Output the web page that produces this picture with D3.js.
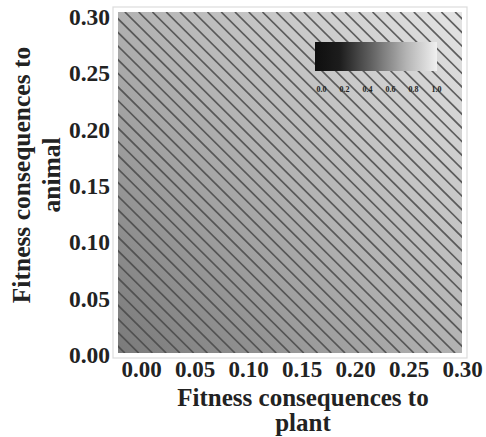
<!DOCTYPE html>
<html><head><meta charset="utf-8">
<script src="https://cdn.jsdelivr.net/npm/d3@7"></script>
<style>body{margin:0;background:#fff}svg{display:block}</style>
</head><body>
<svg id="c" width="486" height="437"></svg>
<script>
// Data
const xDomain = [0, 0.30];
const yDomain = [0, 0.30];
const xTicks = [0.00, 0.05, 0.10, 0.15, 0.20, 0.25, 0.30];
const yTicks = [0.00, 0.05, 0.10, 0.15, 0.20, 0.25, 0.30];
const contourStep = 0.012;                 // spacing of contour lines in x+y
const legendTicks = [0.0, 0.2, 0.4, 0.6, 0.8, 1.0];
const xTitle = ["Fitness consequences to", "plant"];
const yTitle = ["Fitness consequences to", "animal"];

const svg = d3.select("#c");
const font = "'Liberation Serif','Times New Roman',serif";

// plot area (fill) scales
const x = d3.scaleLinear().domain(xDomain).range([118, 462]);
const y = d3.scaleLinear().domain(yDomain).range([353, 12]);
// tick label scales
const xl = d3.scaleLinear().domain(xDomain).range([141, 462]);
const yl = d3.scaleLinear().domain(yDomain).range([355, 17]);

const defs = svg.append("defs");
const g = defs.append("linearGradient").attr("id", "bg")
  .attr("gradientUnits", "userSpaceOnUse")
  .attr("x1", x(0)).attr("y1", y(0)).attr("x2", x(0.3)).attr("y2", y(0.3));
const shade = d3.scaleLinear().domain([0, 0.5, 1]).range(["#7a7a7a", "#b2b2b2", "#e4e4e4"]);
d3.range(0, 1.0001, 0.1).forEach(t => g.append("stop").attr("offset", t).attr("stop-color", shade(t)));

// outer frame
svg.append("rect").attr("x", x(0) - 5).attr("y", y(0.3) - 5)
  .attr("width", x(0.3) - x(0) + 10).attr("height", y(0) - y(0.3) + 10)
  .attr("fill", "none").attr("stroke", "#dcdcdc").attr("stroke-width", 1.2);

svg.append("rect").attr("x", x(0)).attr("y", y(0.3))
  .attr("width", x(0.3) - x(0)).attr("height", y(0) - y(0.3))
  .attr("fill", "url(#bg)");

// contour lines x + y = k
defs.append("clipPath").attr("id", "clip").append("rect")
  .attr("x", x(0)).attr("y", y(0.3)).attr("width", x(0.3) - x(0)).attr("height", y(0) - y(0.3));
const levels = d3.range(contourStep / 2, 0.6, contourStep);
svg.append("g").attr("clip-path", "url(#clip)")
  .selectAll("line").data(levels).join("line")
  .attr("x1", k => x(k - 0.3)).attr("y1", y(0.3))
  .attr("x2", k => x(k)).attr("y2", y(0))
  .attr("stroke", "#484848").attr("stroke-width", 1.7).attr("stroke-opacity", 0.85);

// axes (labels only)
const xa = svg.append("g").attr("transform", "translate(0,377)")
  .call(d3.axisBottom(xl).tickValues(xTicks).tickFormat(d3.format(".2f")).tickSize(0));
xa.select(".domain").remove();
xa.selectAll("text").attr("font-family", font).attr("font-weight", "bold")
  .attr("font-size", 23).attr("fill", "#222").attr("y", 0).attr("dy", 0);

const ya = svg.append("g").attr("transform", "translate(110,0)")
  .call(d3.axisLeft(yl).tickValues(yTicks).tickFormat(d3.format(".2f")).tickSize(0));
ya.select(".domain").remove();
ya.selectAll("text").attr("font-family", font).attr("font-weight", "bold")
  .attr("font-size", 23.5).attr("fill", "#222").attr("x", 0);

// axis titles
svg.append("text").attr("x", 303).attr("y", 406).attr("text-anchor", "middle")
  .attr("font-family", font).attr("font-weight", "bold").attr("font-size", 25).attr("fill", "#222")
  .selectAll("tspan").data(xTitle).join("tspan")
  .attr("x", 303).attr("dy", (d, i) => i ? 25 : 0).text(d => d);

svg.append("text").attr("transform", "translate(30,175) rotate(-90)").attr("text-anchor", "middle")
  .attr("font-family", font).attr("font-weight", "bold").attr("font-size", 25.5).attr("fill", "#222")
  .selectAll("tspan").data(yTitle).join("tspan")
  .attr("x", 0).attr("dy", (d, i) => i ? 30 : 0).text(d => d);

// legend colour bar
const lx = d3.scaleLinear().domain([0, 1]).range([321, 436]);
const lg = defs.append("linearGradient").attr("id", "lg");
const lshade = d3.scaleLinear().domain([0, 0.2, 0.45, 0.75, 1]).range(["#0e0e0e", "#1c1c1c", "#5e5e5e", "#b4b4b4", "#f0f0f0"]);
d3.range(0, 1.0001, 0.05).forEach(t => lg.append("stop").attr("offset", t).attr("stop-color", lshade(t)));
svg.append("rect").attr("x", 315).attr("y", 42).attr("width", 122).attr("height", 29).attr("fill", "url(#lg)");
const la = svg.append("g").attr("transform", "translate(0,83)")
  .call(d3.axisBottom(lx).tickValues(legendTicks).tickFormat(d3.format(".1f")).tickSize(0));
la.select(".domain").remove();
la.selectAll("text").attr("font-family", font).attr("font-weight", "bold")
  .attr("font-size", 8).attr("fill", "#222");
</script>
</body></html>
